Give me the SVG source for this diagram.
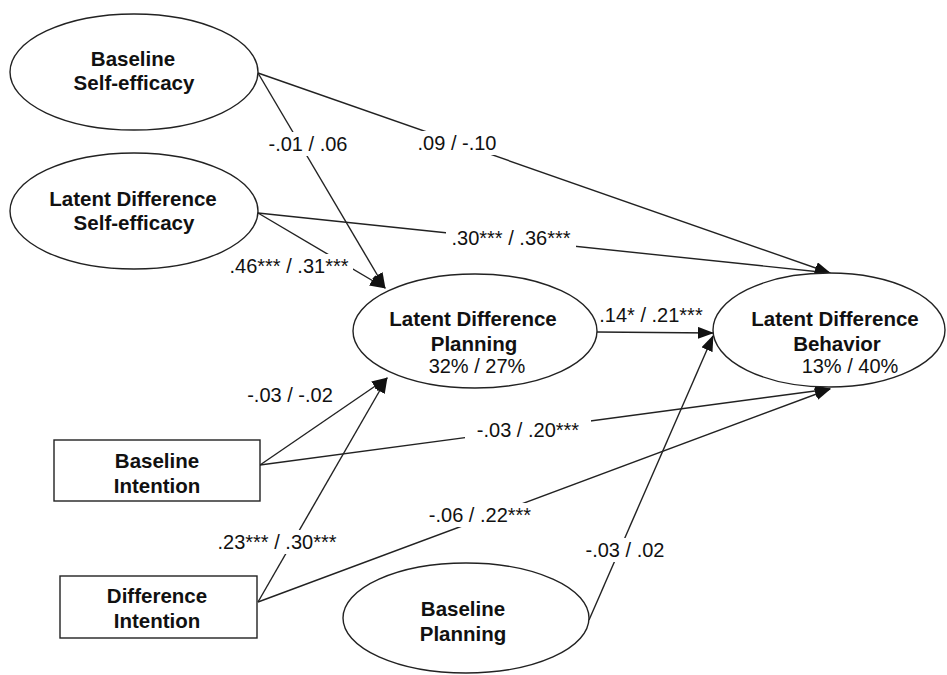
<svg xmlns="http://www.w3.org/2000/svg" width="947" height="675" viewBox="0 0 947 675">
<style>
.node{fill:#fff;stroke:#222;stroke-width:1.4}
.nt{font-family:"Liberation Sans",Arial,sans-serif;font-weight:bold;font-size:20.5px;fill:#111;text-anchor:middle}
.pct{font-family:"Liberation Sans",Arial,sans-serif;font-size:20px;fill:#111;text-anchor:middle}
.edge{stroke:#222;stroke-width:1.4;fill:none}
.lbl{font-family:"Liberation Sans",Arial,sans-serif;font-size:20px;fill:#111;text-anchor:middle}
.bg{fill:#fff}
</style>
<defs>
<marker id="arr" markerUnits="userSpaceOnUse" markerWidth="16" markerHeight="12" refX="15" refY="6" orient="auto">
<path d="M0,0 L16,6 L0,12 Z" fill="#111"/>
</marker>
</defs>
<rect width="947" height="675" fill="#fff"/>
<g id="connectors">
<line class="edge" x1="258" y1="73" x2="385" y2="288" marker-end="url(#arr)"/>
<line class="edge" x1="258" y1="73" x2="830" y2="273" marker-end="url(#arr)"/>
<line class="edge" x1="258" y1="213" x2="385" y2="288" marker-end="url(#arr)"/>
<line class="edge" x1="258" y1="213" x2="830" y2="273" marker-end="url(#arr)"/>
<line class="edge" x1="597" y1="332" x2="713" y2="333" marker-end="url(#arr)"/>
<line class="edge" x1="260" y1="465" x2="387" y2="378" marker-end="url(#arr)"/>
<line class="edge" x1="260" y1="465" x2="830" y2="389" marker-end="url(#arr)"/>
<line class="edge" x1="258" y1="602" x2="387" y2="378" marker-end="url(#arr)"/>
<line class="edge" x1="258" y1="602" x2="830" y2="389" marker-end="url(#arr)"/>
<line class="edge" x1="589" y1="620" x2="713" y2="336" marker-end="url(#arr)"/>
<g id="labels">
<rect class="bg" x="265" y="132" width="86" height="24"/>
<text class="lbl" x="308" y="151">-.01 / .06</text>
<rect class="bg" x="415" y="131" width="86" height="24"/>
<text class="lbl" x="457" y="150">.09 / -.10</text>
<rect class="bg" x="446" y="226" width="130" height="24"/>
<text class="lbl" x="511" y="245">.30*** / .36***</text>
<rect class="bg" x="225" y="254" width="128" height="24"/>
<text class="lbl" x="289" y="273">.46*** / .31***</text>
<text class="lbl" x="651" y="322">.14* / .21***</text>
<text class="lbl" x="290" y="402">-.03 / -.02</text>
<rect class="bg" x="465" y="418" width="126" height="24"/>
<text class="lbl" x="528" y="437">-.03 / .20***</text>
<rect class="bg" x="212" y="530" width="130" height="24"/>
<text class="lbl" x="277" y="549">.23*** / .30***</text>
<rect class="bg" x="424" y="503" width="114" height="24"/>
<text class="lbl" x="480" y="522">-.06 / .22***</text>
<rect class="bg" x="582" y="538" width="86" height="24"/>
<text class="lbl" x="625" y="557">-.03 / .02</text>
</g>
</g>
<g id="baseline-self-efficacy">
<ellipse class="node" cx="134" cy="72" rx="124" ry="58"/>
<text class="nt" x="133" y="66">Baseline</text>
<text class="nt" x="134" y="90">Self-efficacy</text>
</g>
<g id="latent-difference-self-efficacy">
<ellipse class="node" cx="134" cy="211" rx="124" ry="58"/>
<text class="nt" x="133" y="206">Latent Difference</text>
<text class="nt" x="134" y="230">Self-efficacy</text>
</g>
<g id="latent-difference-planning">
<ellipse class="node" cx="475" cy="331" rx="122" ry="57"/>
<text class="nt" x="473" y="326">Latent Difference</text>
<text class="nt" x="474" y="351">Planning</text>
<text class="pct" x="477" y="373">32% / 27%</text>
</g>
<g id="latent-difference-behavior">
<ellipse class="node" cx="829" cy="330" rx="116" ry="57"/>
<text class="nt" x="835" y="326">Latent Difference</text>
<text class="nt" x="837" y="351">Behavior</text>
<text class="pct" x="850" y="373">13% / 40%</text>
</g>
<g id="baseline-intention">
<rect class="node" x="54" y="440" width="206" height="61"/>
<text class="nt" x="157" y="468">Baseline</text>
<text class="nt" x="157" y="493">Intention</text>
</g>
<g id="difference-intention">
<rect class="node" x="60" y="576" width="197" height="62"/>
<text class="nt" x="157" y="603">Difference</text>
<text class="nt" x="157" y="628">Intention</text>
</g>
<g id="baseline-planning">
<ellipse class="node" cx="466" cy="618" rx="123" ry="55"/>
<text class="nt" x="463" y="616">Baseline</text>
<text class="nt" x="463" y="641">Planning</text>
</g>
</svg>
